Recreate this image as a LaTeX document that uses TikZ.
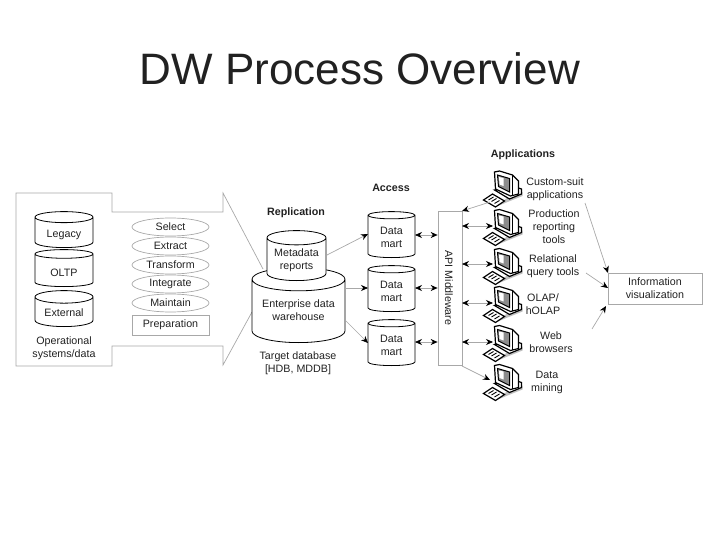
\documentclass[tikz,border=0pt]{standalone}
\usepackage{fontspec}
\setmainfont{Liberation Sans}
\usetikzlibrary{shapes.geometric, positioning, arrows.meta}
\definecolor{linegray}{gray}{0.66}
\definecolor{inkgray}{gray}{0.13}
\newcommand{\dbtext}[2]{\raisebox{#1}[0pt][0pt]{\begin{tabular}{@{}c@{}}#2\end{tabular}}}
\tikzset{>={Stealth[black, length=7pt, width=6pt]}, % black heads on the gray lines
every node/.style={text=inkgray, font=\fontsize{10.7}{13}\selectfont, align=center, inner sep=0pt},
db/.style={cylinder, shape border rotate=90, anchor=bottom, draw=black, line width=0.8pt, fill=white, aspect=0.32}, % a database drum
wire/.style={draw=linegray, line width=0.7pt}, % plain gray line
oneway/.style={wire, ->}, % gray line with one head
twoway/.style={wire, <->}, % gray line with two heads
task/.style={ellipse, draw=linegray, line width=0.7pt, minimum width=77pt, minimum height=18pt},
label/.style={font=\fontsize{10.7}{13}\selectfont\bfseries},
pc/.pic={ % one computer, origin at the middle of the icon
  \fill[black!25] (-6,17) -- (6,12) -- (21,6) -- (21,2) -- (8,6) -- cycle;
  \filldraw[draw=black, line width=1.2pt, fill=white] (-18,10) -- (-9,4) -- (3,11) -- (-6,17) -- cycle; % keyboard
  \draw[line width=0.9pt] (-13,10) -- (-8,7) (-10,11.5) -- (-5,8.5) (-7,13.5) -- (-2,10.5);
  \filldraw[draw=black, line width=1.2pt, fill=white] (-7,0) -- (8,9) -- (20,4) -- (20,-1) -- (14,-3) -- cycle; % base
  \filldraw[draw=black, line width=1.2pt, fill=white] (-7,-18) -- (-2,-19) -- (11,-15) -- (17,-9) -- (17,4) -- (9,6) -- (-6,-1) -- cycle; % monitor
  \draw[line width=0.9pt] (11,-15) -- (11,5);
  \filldraw[draw=black, line width=1pt, fill=black!45] (-4,-15) -- (8,-11.5) -- (8,2) -- (-3,-3.5) -- cycle; % screen
  \fill[white] (-2.5,-13) -- (2,-12) -- (2,-4) -- (-2,-5.5) -- cycle;
}
}
\begin{document}
\begin{tikzpicture}[x=1pt, y=-1pt]
  \useasboundingbox (0,0) rectangle (720,540);
  \node[font=\fontsize{44}{50}\selectfont] (title) at (360,69) {DW Process Overview};

  % big arrow behind the preparation area
  \draw[wire] (263,269) -- (223,193) -- (223,212) -- (112,212) -- (112,193) -- (16,193) -- (16,366) -- (112,366) -- (112,346) -- (223,346) -- (223,365) -- (252,312);

  % operational systems
  \node[db, minimum width=58pt, minimum height=36pt] (legacy) at (64,248) {\dbtext{-5pt}{Legacy}};
  \node[db, minimum width=58pt, minimum height=37pt] (oltp) at (64,287) {\dbtext{-6pt}{OLTP}};
  \node[db, minimum width=58pt, minimum height=36pt] (external) at (64,327) {\dbtext{-5pt}{External}};
  \node (oper) at (64,348) {Operational\\systems/data};

  % preparation steps
  \node[task] (select) at (170.5,227) {Select};
  \node[task] (extract) at (170.5,246) {Extract};
  \node[task] (transform) at (170.5,265) {Transform};
  \node[task] (integrate) at (170.5,284) {Integrate};
  \node[task] (maintain) at (170.5,303) {Maintain};
  \node[draw=linegray, line width=0.7pt, minimum width=77pt, minimum height=20pt] (prep) at (170.5,325) {Preparation};

  % replication
  \node[label] (repl) at (296,212.5) {Replication};
  \node[db, minimum width=93pt, minimum height=75pt] (ent) at (298.5,343) {\dbtext{-3pt}{Enterprise data\\warehouse}};
  \node[db, minimum width=59pt, minimum height=50pt] (meta) at (296.5,281) {\dbtext{-4pt}{Metadata\\reports}};
  \node (target) at (298,363) {Target database\\{[HDB, MDDB]}};

  % access
  \node[label] (access) at (391,188) {Access};
  \node[db, minimum width=47pt, minimum height=46pt] (mart1) at (391.5,258) {\dbtext{-5pt}{Data\\mart}};
  \node[db, minimum width=47pt, minimum height=46pt] (mart2) at (391.5,312) {\dbtext{-5pt}{Data\\mart}};
  \node[db, minimum width=47pt, minimum height=46pt] (mart3) at (391.5,366) {\dbtext{-5pt}{Data\\mart}};

  % middleware
  \node[draw=linegray, line width=0.7pt, minimum width=24pt, minimum height=154pt] (api) at (450,288) {};
  \node[rotate=-90] (apitext) at (449,288) {API Middleware};

  % applications
  \node[label] (apps) at (523,154.5) {Applications};
  \foreach \n/\y in {1/190, 2/228.5, 3/267.5, 4/305.5, 5/344.5, 6/383.5}
    \coordinate (pc\n) at (501.5,\y);
  \foreach \n in {1,...,6}
    \pic at (pc\n) {pc};
  \node (custom) at (555,189) {Custom-suit\\applications};
  \node (prod) at (554,227) {Production\\reporting\\tools};
  \node (rel) at (553,266) {Relational\\query tools};
  \node (olap) at (543,304.5) {OLAP/\\hOLAP};
  \node (web) at (551,342.5) {Web\\browsers};
  \node (mining) at (547,382) {Data\\mining};

  % result
  \node[draw=linegray, line width=0.7pt, minimum width=94pt, minimum height=31pt] (info) at (655,288.5) {Information\\visualization};

  % free ends of the sloped lines
  \coordinate (metaout) at (327,255);
  \coordinate (entup) at (345,288);
  \coordinate (entdown) at (345,320);
  \coordinate (martin1) at (368,234);
  \coordinate (martin2) at (368,288);
  \coordinate (martin3) at (368,343);
  \coordinate (martout1) at (415,235);
  \coordinate (martout2) at (415,288);
  \coordinate (martout3) at (415,342);
  \coordinate (a1) at (462,211);
  \coordinate (a2) at (462,226);
  \coordinate (a3) at (462,264);
  \coordinate (a4) at (462,303);
  \coordinate (a5) at (462,342);
  \coordinate (a6) at (462,366);
  \coordinate (c1) at (490,202);
  \coordinate (c2) at (493,226);
  \coordinate (c3) at (493,264);
  \coordinate (c4) at (493,303);
  \coordinate (c5) at (493,342);
  \coordinate (c6) at (490,380);
  \coordinate (v1) at (585,203);
  \coordinate (v2) at (586,273);
  \coordinate (v3) at (592,329);
  \coordinate (i1) at (608,273);
  \coordinate (i2) at (608,288);
  \coordinate (i3) at (606,306);

  \draw[oneway] (metaout) -- (martin1);
  \draw[oneway] (entup) -- (martin2);
  \draw[oneway] (entdown) -- (martin3);
  \draw[twoway] (martout1) -- (martout1 -| api.west);
  \draw[twoway] (martout2) -- (martout2 -| api.west);
  \draw[twoway] (martout3) -- (martout3 -| api.west);
  \draw[twoway] (c2) -- (a2);
  \draw[twoway] (c3) -- (a3);
  \draw[twoway] (c4) -- (a4);
  \draw[twoway] (c5) -- (a5);
  \draw[oneway] (c1) -- (a1);
  \draw[oneway] (a6) -- (c6);
  \draw[oneway] (v1) -- (i1);
  \draw[oneway] (v2) -- (i2);
  \draw[oneway] (v3) -- (i3);
\end{tikzpicture}
\end{document}
